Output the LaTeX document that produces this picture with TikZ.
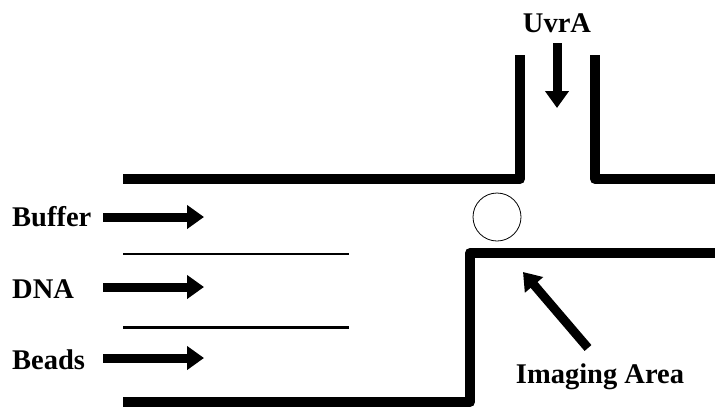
\documentclass[tikz,border=0pt]{standalone}
\usepackage{fontspec}
\setmainfont{Liberation Serif}
\usetikzlibrary{arrows.meta}
\begin{document}
\begin{tikzpicture}[x=1pt,y=-1pt,
  wall/.style={line width=10pt,line join=round},
  divider/.style={line width=2.5pt},
  flowarrow/.style={line width=9pt,-{Triangle[length=17pt,width=23pt]}},
  lbl/.style={font=\bfseries\fontsize{28.5}{30}\selectfont,inner sep=0pt}]
\useasboundingbox (0,0) rectangle (715,408);
% walls
\draw[wall] (123,179) -- (520,179) -- (520,55);
\draw[wall] (595,55) -- (595,179) -- (715,179);
\draw[wall] (715,253) -- (470,253) -- (470,402) -- (123,402);
% dividers
\draw[divider] (123,254) -- (349,254);
\draw[divider] (123,327.5) -- (349,327.5);
% bead
\node[draw,circle,line width=0.8pt,minimum size=48pt,inner sep=0pt] (bead) at (497,217) {};
% labels
\node[lbl,anchor=base west] (buffer) at (12,226) {Buffer};
\node[lbl,anchor=base west] (dna) at (12,298) {DNA};
\node[lbl,anchor=base west] (beads) at (12,369) {Beads};
\node[lbl,anchor=base] (uvra) at (557,32) {UvrA};
\node[lbl,anchor=base] (imaging) at (600,383) {Imaging Area};
% arrow coordinates
\coordinate (b1) at (103,217); \coordinate (b2) at (204,217);
\coordinate (d1) at (103,287); \coordinate (d2) at (204,287);
\coordinate (e1) at (103,358); \coordinate (e2) at (204,358);
\coordinate (u1) at (557,43); \coordinate (u2) at (557,108);
\coordinate (i1) at (588,348); \coordinate (i2) at (523,272);
\draw[flowarrow] (b1) -- (b2);
\draw[flowarrow] (d1) -- (d2);
\draw[flowarrow] (e1) -- (e2);
\draw[flowarrow] (u1) -- (u2);
\draw[flowarrow] (i1) -- (i2);
\end{tikzpicture}
\end{document}
